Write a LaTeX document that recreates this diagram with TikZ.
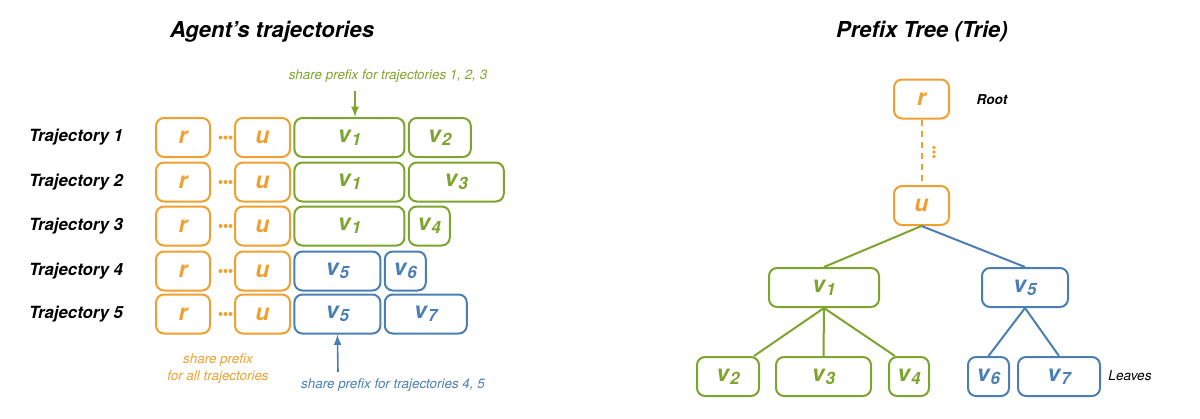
\documentclass[tikz,border=0pt]{standalone}
\usepackage{fontspec}
\setmainfont{TeX Gyre Heros}
\usetikzlibrary{positioning,arrows}

\definecolor{tokorange}{HTML}{F0A030}
\definecolor{tokgreen}{HTML}{7DA52E}
\definecolor{tokblue}{HTML}{4B7FB4}

\newcommand{\tokv}[1]{v\kern0.5pt\raisebox{-0.25ex}{\fontsize{8.5}{8.5}\selectfont #1}}

\tikzset{
  tokbox/.style={draw, rounded corners=4pt, line width=1pt, inner sep=0pt,
    minimum height=19.5pt, font=\fontsize{11.5}{11.5}\selectfont\bfseries\itshape},
  wd/.style={minimum width=#1*0.5pt},
  ornode/.style={tokbox, tokorange, text=tokorange},
  grnode/.style={tokbox, tokgreen, text=tokgreen},
  blnode/.style={tokbox, tokblue, text=tokblue},
  rowlabel/.style={font=\fontsize{8.4}{8.4}\selectfont\bfseries\itshape},
  heading/.style={font=\fontsize{11}{11}\selectfont\bfseries\itshape},
  note/.style={font=\fontsize{6.7}{8.5}\selectfont\itshape, align=center},
  edge/.style={line width=1pt},
  node distance=1.2pt
}

\begin{document}
\begin{tikzpicture}[x=0.5pt,y=-0.5pt,>=latex]
\useasboundingbox (0,0) rectangle (1200,418);

% left: the five trajectories
\node[heading] (lefttitle) at (272,32) {Agent’s trajectories};
\foreach \i/\y in {1/137.5,2/182,3/226,4/271,5/314}{
  \node[rowlabel] (traj\i) at (76,\y) {Trajectory \i};
  \node[ornode,wd=54] (r\i) at (183,\y) {r};
  \coordinate (d\i) at (225.5,\y);
  \foreach \dx in {-5,0,5}
    \fill[tokorange] ([xshift=\dx*0.5pt]d\i) circle (1pt);
  \node[ornode,wd=55] (u\i) at (262.5,\y) {u};
}
\node[grnode,wd=110,right=of u1] (v1a) {\tokv1};
\node[grnode,wd=62,right=of v1a] (v2a) {\tokv2};
\node[grnode,wd=110,right=of u2] (v1b) {\tokv1};
\node[grnode,wd=95,right=of v1b] (v3b) {\tokv3};
\node[grnode,wd=110,right=of u3] (v1c) {\tokv1};
\node[grnode,wd=41,right=of v1c] (v4c) {\tokv4};
\node[blnode,wd=86,right=of u4] (v5d) {\tokv5};
\node[blnode,wd=41,right=of v5d] (v6d) {\tokv6};
\node[blnode,wd=86,right=of u5] (v5e) {\tokv5};
\node[blnode,wd=82,right=of v5e] (v7e) {\tokv7};

\node[note,text=tokgreen] (share123) at (388,76) {share prefix for trajectories 1, 2, 3};
\node[note,text=tokorange] (shareall) at (218,369) {share prefix\\for all trajectories};
\node[note,text=tokblue] (share45) at (393,385) {share prefix for trajectories 4, 5};
\coordinate (g123) at (355,91);
\coordinate (b45) at (338,372);
\draw[->,tokgreen,line width=0.8pt] (g123) -- (g123 |- v1a.north);
\draw[->,tokblue,line width=0.8pt] (b45) -- (v5e.south);

% right: the prefix tree
\node[heading] (righttitle) at (922,32) {Prefix Tree (Trie)};
\node[ornode,wd=55] (tr) at (921.5,99) {r};
\node[ornode,wd=55] (tu) at (921.5,205.5) {u};
\node[grnode,wd=110] (tv1) at (824,287.5) {\tokv1};
\node[blnode,wd=86] (tv5) at (1025,287.5) {\tokv5};
\node[grnode,wd=62] (tv2) at (728,376.5) {\tokv2};
\node[grnode,wd=95] (tv3) at (823.5,376.5) {\tokv3};
\node[grnode,wd=40] (tv4) at (909,376.5) {\tokv4};
\node[blnode,wd=41] (tv6) at (988.5,376.5) {\tokv6};
\node[blnode,wd=82] (tv7) at (1059,376.5) {\tokv7};
\node[font=\fontsize{6.8}{6.8}\selectfont\bfseries\itshape] (rootlbl) at (992,100) {Root};
\node[font=\fontsize{6.8}{6.8}\selectfont\itshape] (leaflbl) at (1130,376) {Leaves};
\coordinate (tdots) at (934,152);
\foreach \dy in {-4.5,0,4.5}
  \fill[tokorange] ([yshift=\dy*0.5pt]tdots) circle (0.9pt);

\draw[tokorange,edge,dash pattern=on 3pt off 2.5pt] (tr.south) -- (tu.north);
\draw[tokgreen,edge] (tu.south) -- (tv1.north);
\draw[tokblue,edge] (tu.south) -- (tv5.north);
\draw[tokgreen,edge] (tv1.south) -- ([xshift=-3pt]tv2.north east);
\draw[tokgreen,edge] (tv1.south) -- (tv3.north);
\draw[tokgreen,edge] (tv1.south) -- ([xshift=3.5pt]tv4.north west);
\draw[tokblue,edge] (tv5.south) -- (tv6.north);
\draw[tokblue,edge] (tv5.south) -- (tv7.north);
\end{tikzpicture}
\end{document}
